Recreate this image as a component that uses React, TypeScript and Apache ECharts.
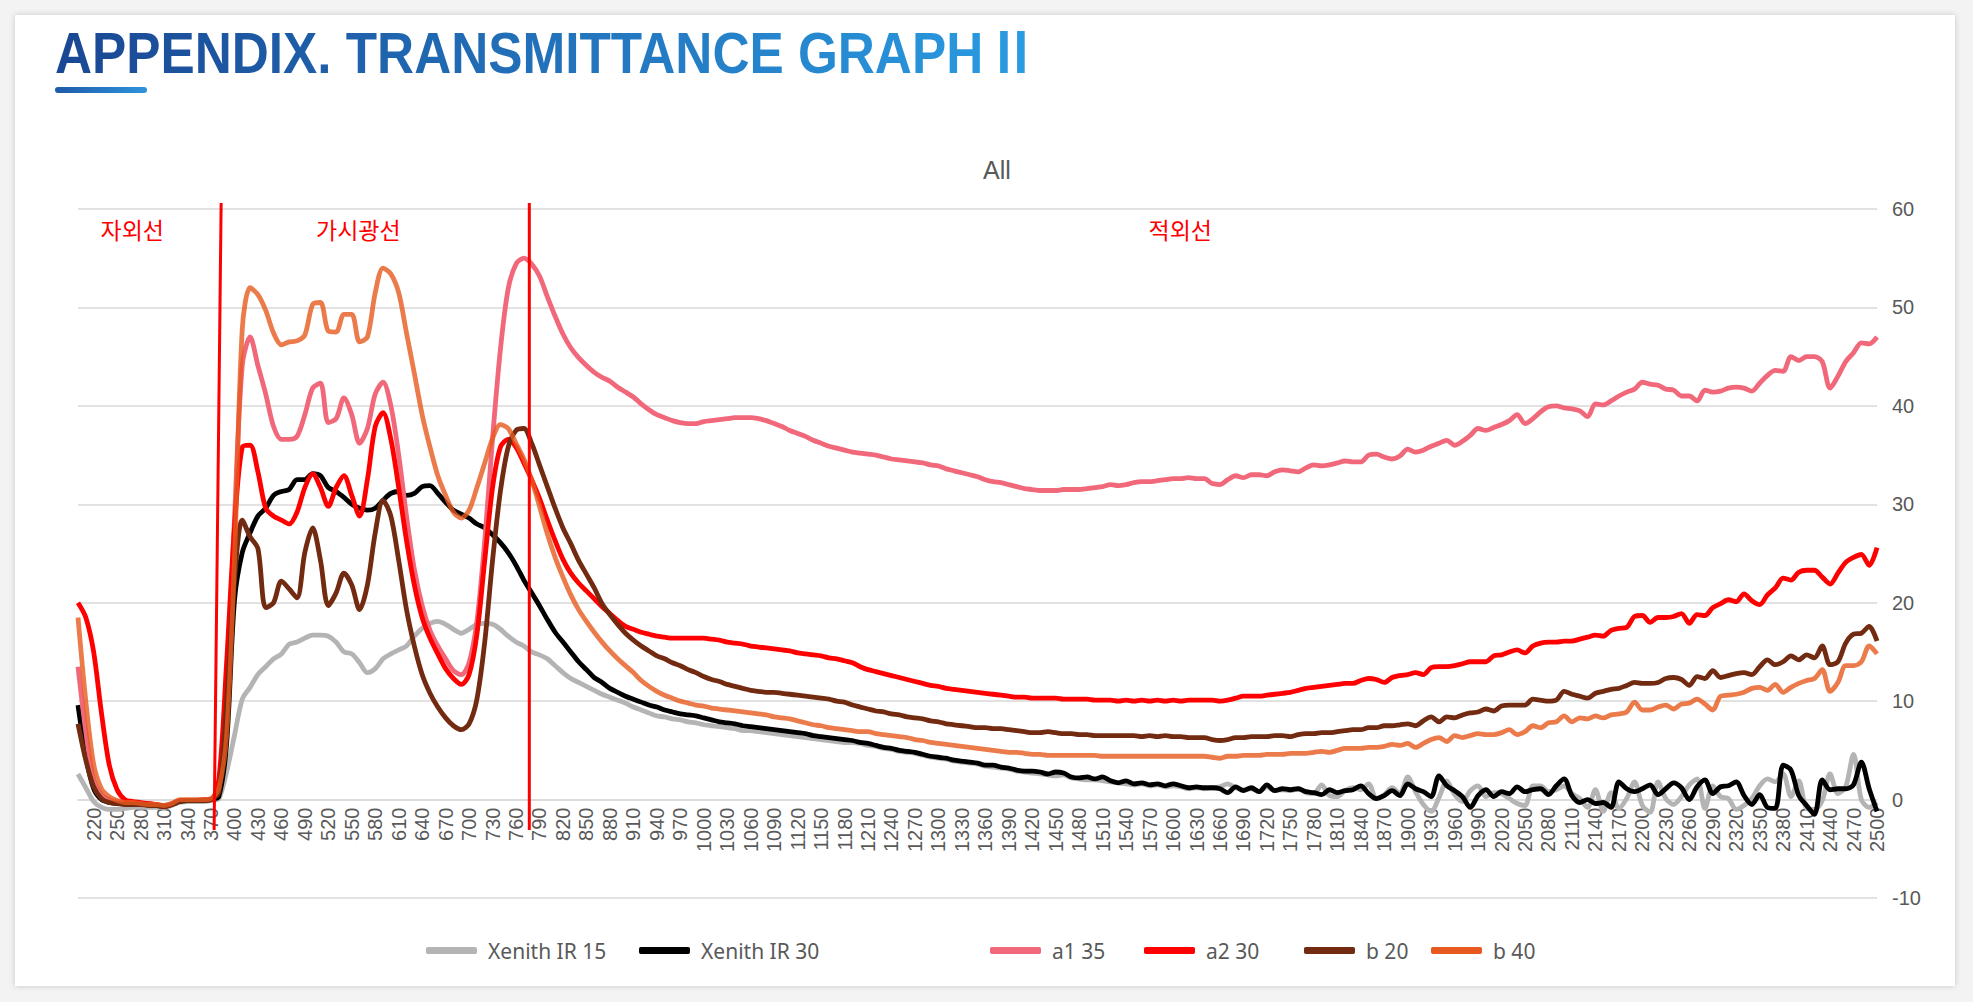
import React, { useEffect, useRef } from "react";
import * as echarts from "echarts";

// Wavelength categories (nm), 10 nm steps from 200 to 2500
const WAVELENGTHS: number[] = Array.from({ length: 231 }, (_, i) => 200 + i * 10);

// Transmittance (%) per wavelength, 200 nm → 2500 nm
const XENITH_IR_15 = [
  2.6, 1.2, -0.2, -0.8, -1.0, -1.0, -0.9, -0.8, -0.8, -0.8, -0.8, -0.8, -0.6, -0.3, -0.2, -0.2, -0.2, -0.1,
  0.1, 2.8, 6.5, 10.2, 11.4, 12.7, 13.5, 14.3, 14.8, 15.8, 16.0, 16.4, 16.7, 16.7, 16.6, 16.0, 15.0, 14.8, 13.9, 12.9,
  13.3, 14.3, 14.8, 15.2, 15.6, 16.6, 17.4, 17.9, 18.1, 17.8, 17.3, 16.9, 17.3, 17.8, 17.9, 17.8, 17.3, 16.6, 16.0, 15.6, 15.0,
  14.7, 14.3, 13.6, 12.9, 12.3, 11.9, 11.5, 11.1, 10.7, 10.4, 10.1, 9.8, 9.4, 9.1, 8.8, 8.5, 8.4, 8.2, 8.1, 7.9,
  7.8, 7.6, 7.5, 7.4, 7.3, 7.2, 7.0, 7.0, 6.9, 6.8, 6.7, 6.6, 6.5, 6.4, 6.3, 6.2, 6.1, 6.0, 5.9, 5.8,
  5.8, 5.7, 5.5, 5.4, 5.2, 5.1, 4.9, 4.8, 4.7, 4.5, 4.3, 4.2, 4.1, 3.9, 3.8, 3.7, 3.6, 3.4, 3.3, 3.2,
  3.1, 2.9, 2.8, 2.7, 2.6, 2.5, 2.4, 2.5, 2.2, 2.1, 2.0, 2.0, 1.9, 1.8, 1.7, 1.6, 1.5, 1.6, 1.4, 1.5,
  1.3, 1.4, 1.3, 1.1, 1.2,
  1.1, 1.2, 1.3, 1.6, 1.2, 1.0, 1.1, 0.8, 1.3, 0.9, 1.0, 0.9, 1.1, 0.7, 0.6, 1.5, 0.4, 0.3, 0.9, 1.2,
  1.0, 1.6, 0.1, 0.5, 1.2, 0.6, 2.3, 0.8, -0.5, -1.2, 0.2, 1.9, 0.5, -0.2, 0.9, 1.4, 0.3, 0.7, 0.6, 0.1,
  -0.4, -0.6, 1.4, 1.4, 0.8, 1.0, 1.4, 0.6, 0.1, -0.8, 1.0, -1.2, 0.7, -0.9, 0.1, 1.8, -0.6, -1.3, 1.8, 0.1,
  -0.5, 0.3, 1.5, 2.1, -0.9, 1.4, 0.3, 0.1, -1.0, -0.6, 0.1, 1.4, 2.1, 1.8, 2.6, 0.3, 1.9, -0.9, -1.0, -0.1,
  2.6, 0.6, 1.3, 4.6, 0.0, -0.8, -0.3,
];

const XENITH_IR_30 = [
  9.6, 4.4, 1.1, 0.0, -0.3, -0.4, -0.4, -0.5, -0.5, -0.5, -0.6, -0.7, -0.5, -0.2, -0.1, -0.1, -0.1, 0.0,
  0.3, 5.7, 20.2, 25.1, 27.1, 28.8, 29.6, 30.9, 31.3, 31.5, 32.5, 32.5, 33.1, 32.9, 31.7, 31.3, 30.7, 30.0, 29.6, 29.4,
  29.6, 30.4, 31.1, 31.3, 30.9, 31.1, 31.8, 31.9, 31.1, 30.2, 29.4, 29.0, 28.6, 28.0, 27.6, 26.9, 26.1, 25.1, 23.8, 22.3, 21.0,
  19.7, 18.3, 17.0, 16.0, 15.0, 14.0, 13.2, 12.4, 11.9, 11.3, 10.9, 10.5, 10.2, 9.9, 9.6, 9.4, 9.1, 8.9, 8.7, 8.6,
  8.5, 8.3, 8.1, 7.9, 7.8, 7.7, 7.5, 7.4, 7.3, 7.2, 7.1, 7.0, 6.9, 6.8, 6.7, 6.5, 6.4, 6.3, 6.2, 6.1,
  6.0, 5.8, 5.7, 5.5, 5.3, 5.2, 5.0, 4.9, 4.8, 4.6, 4.4, 4.3, 4.2, 4.0, 3.9, 3.8, 3.7, 3.5, 3.5, 3.3,
  3.2, 3.0, 2.9, 2.9, 2.8, 2.6, 2.8, 2.7, 2.3, 2.2, 2.3, 2.1, 2.3, 1.9, 1.7, 1.9, 1.6, 1.7, 1.5, 1.6,
  1.4, 1.6, 1.4, 1.2, 1.3,
  1.2, 1.2, 1.1, 0.7, 1.3, 0.9, 1.2, 0.8, 1.5, 0.9, 1.1, 1.0, 1.1, 0.8, 0.7, 0.5, 1.0, 0.7, 0.9, 1.0,
  1.4, 0.6, 0.1, 0.4, 0.9, 0.4, 1.6, 1.1, 0.8, 0.3, 2.4, 1.4, 0.9, 0.3, -0.8, 0.4, 1.0, 0.3, 0.8, 0.6,
  1.3, 0.8, 1.0, 1.1, 0.5, 1.4, 2.1, 0.4, -0.3, 0.0, -0.4, -0.3, -0.8, 1.8, 1.1, 0.8, 1.1, 1.5, 0.5, 1.1,
  1.7, 1.2, 0.0, 1.3, 2.0, 0.6, 1.3, 1.4, 1.8, 0.4, -0.5, 0.5, -0.8, -0.9, 3.5, 3.0, 0.4, -0.6, -1.5, 2.0,
  1.0, 1.1, 1.1, 1.5, 3.8, 1.1, -1.2,
];

const A1_35 = [
  13.5, 6.9, 2.0, 0.5, 0.0, -0.2, -0.3, -0.3, -0.4, -0.4, -0.5, -0.6, -0.4, -0.1, -0.1, -0.1, -0.1, 0.0,
  1.1, 9.8, 28.4, 44.1, 47.0, 44.1, 41.2, 37.9, 36.6, 36.6, 36.9, 39.1, 41.8, 42.3, 38.3, 38.7, 40.8, 39.1, 36.2, 37.7,
  41.2, 42.4, 40.0, 35.0, 28.8, 23.4, 19.7, 17.2, 15.6, 14.3, 13.1, 12.7, 13.9, 18.1, 26.3, 36.7, 45.7, 51.9, 54.4, 55.0, 54.4,
  53.2, 51.1, 49.1, 47.3, 45.9, 44.9, 44.1, 43.4, 42.9, 42.5, 41.9, 41.4, 40.9, 40.2, 39.6, 39.1, 38.8, 38.5, 38.3, 38.2,
  38.2, 38.4, 38.5, 38.6, 38.7, 38.8, 38.8, 38.8, 38.7, 38.5, 38.2, 37.9, 37.5, 37.2, 36.9, 36.5, 36.2, 35.9, 35.7, 35.5,
  35.3, 35.2, 35.1, 35.0, 34.8, 34.6, 34.5, 34.4, 34.3, 34.2, 34.0, 33.9, 33.6, 33.4, 33.2, 33.0, 32.8, 32.5, 32.3, 32.2,
  32.0, 31.8, 31.6, 31.5, 31.4, 31.4, 31.4, 31.5, 31.5, 31.5, 31.6, 31.7, 31.8, 32.0, 31.9, 32.0, 32.2, 32.3, 32.3, 32.4,
  32.5, 32.6, 32.6, 32.7, 32.6,
  32.6, 32.1, 32.0, 32.5, 32.9, 32.7, 33.0, 33.0, 32.9, 33.3, 33.5, 33.4, 33.3, 33.7, 34.0, 33.9, 34.0, 34.2, 34.4, 34.3,
  34.3, 35.0, 35.1, 34.8, 34.6, 34.9, 35.6, 35.3, 35.5, 35.9, 36.2, 36.5, 36.0, 36.4, 37.0, 37.7, 37.5, 37.8, 38.1, 38.5,
  39.1, 38.2, 38.7, 39.4, 39.9, 40.0, 39.8, 39.7, 39.5, 38.9, 40.2, 40.1, 40.5, 41.0, 41.4, 41.7, 42.4, 42.2, 42.1, 41.7,
  41.6, 41.0, 41.0, 40.5, 41.6, 41.4, 41.5, 41.8, 41.9, 41.8, 41.5, 42.3, 43.1, 43.6, 43.5, 45.0, 44.6, 45.0, 45.0, 44.5,
  41.8, 43.0, 44.5, 45.4, 46.4, 46.3, 47.0,
];

const A2_30 = [
  20.0, 18.5, 15.0, 8.8, 3.5, 1.0, 0.0, -0.2, -0.3, -0.4, -0.5, -0.7, -0.5, -0.1, -0.1, -0.1, 0.0, 0.0,
  2.0, 13.9, 27.6, 35.8, 36.0, 33.3, 29.6, 28.8, 28.4, 28.0, 29.2, 31.7, 33.1, 31.7, 29.8, 31.7, 32.9, 30.9, 28.8, 32.5,
  37.9, 39.3, 36.6, 31.7, 26.3, 21.8, 18.5, 16.4, 14.8, 13.3, 12.3, 11.7, 12.7, 16.8, 24.3, 31.7, 35.8, 36.6, 35.8, 34.2, 32.5,
  30.6, 28.4, 26.3, 24.4, 23.0, 22.0, 21.2, 20.4, 19.6, 18.9, 18.2, 17.6, 17.3, 17.0, 16.8, 16.6, 16.5, 16.4, 16.4, 16.4,
  16.4, 16.4, 16.3, 16.2, 16.0, 15.9, 15.8, 15.6, 15.5, 15.4, 15.3, 15.2, 15.1, 14.9, 14.8, 14.7, 14.6, 14.4, 14.3, 14.1,
  13.9, 13.5, 13.2, 13.0, 12.8, 12.6, 12.4, 12.2, 12.0, 11.8, 11.6, 11.5, 11.3, 11.2, 11.1, 11.0, 10.9, 10.8, 10.7, 10.6,
  10.5, 10.4, 10.4, 10.3, 10.3, 10.3, 10.3, 10.2, 10.2, 10.2, 10.2, 10.1, 10.1, 10.1, 10.0, 10.1, 10.0, 10.1, 10.0, 10.1,
  10.0, 10.1, 10.0, 10.1, 10.1,
  10.1, 10.1, 10.0, 10.1, 10.3, 10.5, 10.5, 10.5, 10.6, 10.7, 10.8, 10.9, 11.1, 11.3, 11.4, 11.5, 11.6, 11.7, 11.8, 11.8,
  12.1, 12.3, 12.2, 11.9, 12.4, 12.6, 12.7, 12.9, 12.7, 13.4, 13.5, 13.5, 13.6, 13.8, 14.0, 14.0, 14.0, 14.6, 14.7, 15.0,
  15.2, 14.9, 15.6, 15.9, 16.0, 16.0, 16.1, 16.1, 16.3, 16.5, 16.7, 16.6, 17.2, 17.4, 17.5, 18.6, 18.7, 18.0, 18.5, 18.5,
  18.6, 18.9, 17.9, 18.8, 18.7, 19.5, 19.9, 20.3, 20.1, 20.9, 20.2, 19.8, 20.8, 21.5, 22.5, 22.3, 23.1, 23.3, 23.3, 22.6,
  21.9, 23.0, 24.1, 24.6, 24.9, 23.8, 25.6,
];

const B_20 = [
  7.7, 4.0, 1.3, 0.1, -0.3, -0.4, -0.5, -0.5, -0.5, -0.6, -0.6, -0.7, -0.5, -0.2, -0.1, -0.1, -0.1, 0.0,
  0.7, 9.8, 22.2, 28.4, 26.7, 25.5, 19.5, 20.0, 22.2, 21.4, 20.5, 25.1, 27.6, 24.3, 19.7, 21.0, 23.0, 21.8, 19.3, 21.8,
  27.1, 30.4, 28.8, 24.3, 19.3, 15.6, 12.7, 10.8, 9.4, 8.3, 7.5, 7.1, 7.7, 10.2, 16.0, 24.3, 31.3, 35.8, 37.5, 37.7, 36.2,
  34.0, 31.8, 29.6, 27.6, 26.0, 24.3, 22.9, 21.5, 19.9, 18.8, 17.8, 16.9, 16.2, 15.6, 15.1, 14.6, 14.3, 13.9, 13.6, 13.2,
  12.9, 12.5, 12.2, 12.0, 11.7, 11.5, 11.3, 11.1, 11.0, 10.9, 10.9, 10.8, 10.7, 10.6, 10.5, 10.4, 10.3, 10.2, 10.0, 9.9,
  9.6, 9.4, 9.2, 9.0, 8.9, 8.7, 8.6, 8.4, 8.3, 8.2, 8.0, 7.9, 7.7, 7.6, 7.5, 7.4, 7.3, 7.3, 7.2, 7.2,
  7.1, 7.0, 6.9, 6.8, 6.8, 6.9, 6.8, 6.7, 6.7, 6.6, 6.6, 6.5, 6.5, 6.5, 6.5, 6.5, 6.5, 6.4, 6.5, 6.4,
  6.5, 6.4, 6.4, 6.3, 6.3,
  6.3, 6.1, 6.0, 6.1, 6.3, 6.3, 6.4, 6.4, 6.4, 6.5, 6.5, 6.4, 6.6, 6.7, 6.7, 6.8, 6.8, 6.9, 7.0, 7.1,
  7.1, 7.3, 7.3, 7.5, 7.5, 7.6, 7.7, 7.5, 8.0, 8.4, 7.9, 8.4, 8.3, 8.6, 8.8, 8.9, 9.2, 9.0, 9.5, 9.6,
  9.6, 9.6, 10.2, 10.1, 10.0, 10.1, 11.0, 10.7, 10.5, 10.3, 10.8, 11.0, 11.2, 11.3, 11.6, 11.9, 11.8, 11.8, 11.9, 12.3,
  12.4, 12.2, 11.6, 12.5, 12.3, 13.1, 12.4, 12.6, 12.8, 12.9, 12.7, 13.5, 14.2, 13.7, 14.0, 14.6, 14.2, 14.7, 14.4, 15.6,
  13.7, 14.0, 15.9, 16.8, 16.9, 17.6, 16.1,
];

const B_40 = [
  18.5, 10.0, 3.6, 1.1, 0.3, -0.1, -0.3, -0.3, -0.4, -0.5, -0.5, -0.6, -0.4, 0.0, 0.0, 0.0, 0.0, 0.1,
  1.1, 6.5, 24.3, 47.8, 52.0, 51.3, 49.7, 47.4, 46.2, 46.5, 46.6, 47.2, 50.3, 50.5, 47.6, 47.5, 49.3, 49.3, 46.5, 47.0,
  51.5, 54.0, 53.4, 51.5, 47.4, 43.3, 39.1, 35.8, 32.9, 30.9, 29.2, 28.6, 29.4, 31.7, 34.2, 36.7, 38.1, 37.7, 36.2, 34.6, 32.5,
  29.8, 27.0, 24.6, 22.6, 20.8, 19.3, 18.1, 17.0, 16.0, 15.1, 14.3, 13.6, 12.9, 12.1, 11.5, 11.0, 10.6, 10.3, 10.0, 9.8,
  9.6, 9.5, 9.3, 9.2, 9.1, 9.0, 8.9, 8.8, 8.7, 8.6, 8.4, 8.3, 8.2, 8.0, 7.8, 7.6, 7.5, 7.3, 7.2, 7.1,
  7.0, 6.9, 6.9, 6.7, 6.6, 6.5, 6.4, 6.3, 6.1, 6.0, 5.8, 5.7, 5.6, 5.5, 5.4, 5.3, 5.2, 5.1, 5.0, 4.9,
  4.8, 4.8, 4.7, 4.6, 4.6, 4.5, 4.5, 4.5, 4.5, 4.5, 4.5, 4.5, 4.4, 4.4, 4.4, 4.4, 4.4, 4.4, 4.4, 4.4,
  4.4, 4.4, 4.4, 4.4, 4.4,
  4.4, 4.3, 4.2, 4.4, 4.4, 4.5, 4.5, 4.5, 4.6, 4.6, 4.6, 4.7, 4.7, 4.7, 4.8, 4.9, 4.8, 5.0, 5.2, 5.2,
  5.2, 5.3, 5.3, 5.4, 5.6, 5.5, 5.7, 5.3, 5.7, 6.1, 6.3, 5.9, 6.5, 6.3, 6.5, 6.7, 6.6, 6.6, 6.8, 7.1,
  6.6, 6.9, 7.5, 7.3, 7.8, 7.9, 8.5, 7.9, 8.3, 8.2, 8.5, 8.3, 8.6, 8.7, 8.9, 9.9, 9.1, 9.1, 9.4, 9.6,
  9.2, 9.7, 9.8, 10.2, 9.7, 9.1, 10.5, 10.6, 10.7, 10.9, 11.3, 11.4, 11.1, 11.7, 10.9, 11.4, 11.8, 12.1, 12.3, 13.2,
  11.0, 11.9, 13.6, 13.6, 14.0, 15.6, 14.8,
];

// Value-axis range and tick step
const Y_MIN = -10;
const Y_MAX = 60;
const Y_STEP = 10;

// Spectral band separators: [wavelength nm, transmittance %] end points
const BAND_EDGES: [number, number][][] = [
  [[383, 60.6], [374, -3.1]],
  [[777, 60.6], [777, -3.1]],
];

const BAND_NAMES = ["자외선", "가시광선", "적외선"];

const SERIES = [
  { name: "Xenith IR 15", data: XENITH_IR_15, color: "#b4b4b4", lineOpacity: 1 },
  { name: "Xenith IR 30", data: XENITH_IR_30, color: "#000000", lineOpacity: 1 },
  { name: "a1 35", data: A1_35, color: "#f0687a", lineOpacity: 1 },
  { name: "a2 30", data: A2_30, color: "#ff0000", lineOpacity: 1 },
  { name: "b 20", data: B_20, color: "#722a10", lineOpacity: 1 },
  { name: "b 40", data: B_40, color: "#e75a1f", lineOpacity: 0.8 },
];

// Layout
const GRID = { left: 78, top: 209, width: 1799, height: 689 };
const LEGEND_LEFTS = [421, 634, 985, 1139, 1299, 1426];
const BAND_LABEL_X = [135, 362, 1183];

const AXIS_FONT = "'Liberation Sans', Arial, sans-serif";
const TEXT_GREY = "#595959";
const GRID_GREY = "#d9d9d9";

function TransmittanceChart() {
  const ref = useRef<HTMLDivElement>(null);

  useEffect(() => {
    if (!ref.current) return;
    const chart = echarts.init(ref.current, undefined, { renderer: "svg" });

    // the category axis sits on the zero line of the value axis
    const zeroOffset = -(GRID.height * (0 - Y_MIN)) / (Y_MAX - Y_MIN);

    const option: any = {
      animation: false,
      backgroundColor: "transparent",
      title: {
        text: "All",
        left: 978,
        top: 152,
        textStyle: { fontSize: 25, fontWeight: "normal", color: TEXT_GREY, fontFamily: AXIS_FONT },
      },
      grid: { ...GRID, containLabel: false },
      xAxis: [
        {
          type: "category",
          data: WAVELENGTHS.map(String),
          boundaryGap: false,
          position: "bottom",
          offset: zeroOffset,
          axisLine: { onZero: false, lineStyle: { color: GRID_GREY, width: 1.6 } },
          axisTick: { show: false },
          axisLabel: {
            rotate: 90,
            margin: 8,
            color: TEXT_GREY,
            fontSize: 20,
            fontFamily: AXIS_FONT,
            interval: (_i: number, v: string) => (2500 - Number(v)) % 30 === 0,
          },
          splitLine: { show: false },
        },
        { type: "value", min: 200, max: 2500, show: false, axisLine: { onZero: false } },
      ],
      yAxis: {
        type: "value",
        position: "right",
        min: Y_MIN,
        max: Y_MAX,
        interval: Y_STEP,
        axisLine: { show: false, onZero: false },
        axisTick: { show: false },
        axisLabel: { color: TEXT_GREY, fontSize: 20, margin: 15, fontFamily: AXIS_FONT },
        splitLine: { lineStyle: { color: GRID_GREY, width: 1.6 } },
      },
      legend: SERIES.map((s, i) => ({
        data: [{ name: s.name, itemStyle: { color: s.color, opacity: 1 } }],
        left: LEGEND_LEFTS[i],
        top: 935,
        icon: "roundRect",
        itemWidth: 51,
        itemHeight: 7,
        selectedMode: false,
        textStyle: {
          color: TEXT_GREY,
          fontSize: 21,
          fontFamily: "'Noto Sans', 'Open Sans', sans-serif",
          padding: [0, 0, 0, 6],
        },
      })),
      graphic: BAND_NAMES.map((name, i) => ({
        type: "text",
        left: BAND_LABEL_X[i] - (name.length * 23) / 2,
        top: 217,
        style: {
          text: name,
          fill: "#ff0000",
          font: "23px 'Noto Sans CJK KR', sans-serif",
        },
        z: 20,
      })),
      series: [
        ...SERIES.map((s, i) => ({
          type: "line",
          name: s.name,
          data: s.data,
          smooth: 0.3,
          symbol: "none",
          showSymbol: false,
          z: 2 + i,
          itemStyle: { color: s.color },
          lineStyle: { color: s.color, width: 4.8, opacity: s.lineOpacity },
        })),
        ...BAND_EDGES.map((pts) => ({
          type: "line",
          xAxisIndex: 1,
          data: pts,
          symbol: "none",
          clip: false,
          silent: true,
          z: 20,
          lineStyle: { color: "#ff0000", width: 3 },
        })),
      ],
    };

    chart.setOption(option);
    return () => chart.dispose();
  }, []);

  return (
    <div
      ref={ref}
      style={{ position: "absolute", left: 0, top: 0, width: 1973, height: 1002 }}
    />
  );
}

export default function App() {
  return (
    <div
      style={{
        position: "fixed",
        left: 0,
        top: 0,
        width: 1973,
        height: 1002,
        background: "#f3f3f3",
        overflow: "hidden",
      }}
    >
      <div
        style={{
          position: "absolute",
          left: 15,
          top: 15,
          width: 1940,
          height: 971,
          background: "#ffffff",
          boxShadow: "0 0 6px rgba(0,0,0,0.18)",
        }}
      />
      <div
        style={{
          position: "absolute",
          left: 55,
          top: 18,
          display: "inline-block",
          fontFamily: "'Liberation Sans', Arial, sans-serif",
          fontWeight: 700,
          fontSize: 57,
          lineHeight: "60px",
          whiteSpace: "nowrap",
          transform: "scaleX(0.9)",
          transformOrigin: "0 0",
          background: "linear-gradient(90deg, #1a4793 0%, #2a9ce2 100%)",
          WebkitBackgroundClip: "text",
          backgroundClip: "text",
          color: "transparent",
        }}
      >
        APPENDIX. TRANSMITTANCE GRAPH
        <span style={{ fontFamily: "'Noto Sans CJK KR', sans-serif", fontWeight: 700, marginLeft: 4 }}>Ⅱ</span>
      </div>
      <div
        style={{
          position: "absolute",
          left: 55,
          top: 87,
          width: 92,
          height: 6,
          borderRadius: 3,
          background: "linear-gradient(90deg, #1f5aa8, #2e93dc)",
        }}
      />
      <TransmittanceChart />
    </div>
  );
}
